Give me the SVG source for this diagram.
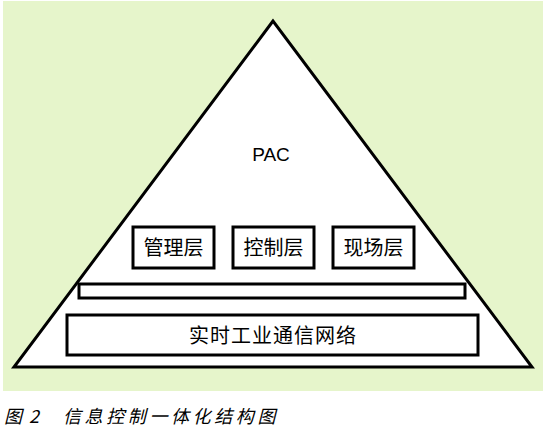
<svg xmlns="http://www.w3.org/2000/svg" width="546" height="446" viewBox="0 0 546 446">
<style>
.sh{fill:#fff;stroke:#000;stroke-width:3}
.t{font-family:"Noto Sans CJK SC","Liberation Sans",sans-serif;font-size:20px;fill:#000;text-anchor:middle}
.pac{font-family:"Liberation Sans",sans-serif;font-size:19px;fill:#000;text-anchor:middle}
.cap{font-family:"Noto Sans CJK SC","Liberation Sans",sans-serif;font-size:18px;fill:#000;font-style:italic}
</style>
<rect x="0" y="0" width="546" height="446" fill="#fff"/>
<rect x="3" y="1" width="540" height="390" fill="#e6f5cb"/>
<g id="pyramid">
<polygon class="sh" points="273,21 14,367 532,367"/>
<text class="pac" x="271" y="161">PAC</text>
</g>
<g id="n1"><rect class="sh" x="133" y="227" width="81" height="41"/><text class="t" x="173.5" y="255">管理层</text></g>
<g id="n2"><rect class="sh" x="233" y="227" width="81" height="41"/><text class="t" x="273.5" y="255">控制层</text></g>
<g id="n3"><rect class="sh" x="333" y="227" width="81" height="41"/><text class="t" x="373.5" y="255">现场层</text></g>
<g id="bar"><rect class="sh" x="79" y="284" width="386" height="14"/></g>
<g id="net"><rect class="sh" x="67" y="315" width="411" height="40"/><text class="t" x="273" y="343" letter-spacing="1">实时工业通信网络</text></g>
<g id="connectors"></g>
<text class="cap" x="4" y="423">图</text>
<text class="cap" x="29" y="423" font-family="Liberation Sans, sans-serif">2</text>
<text class="cap" x="63" y="423" letter-spacing="3.6">信息控制一体化结构图</text>
</svg>
